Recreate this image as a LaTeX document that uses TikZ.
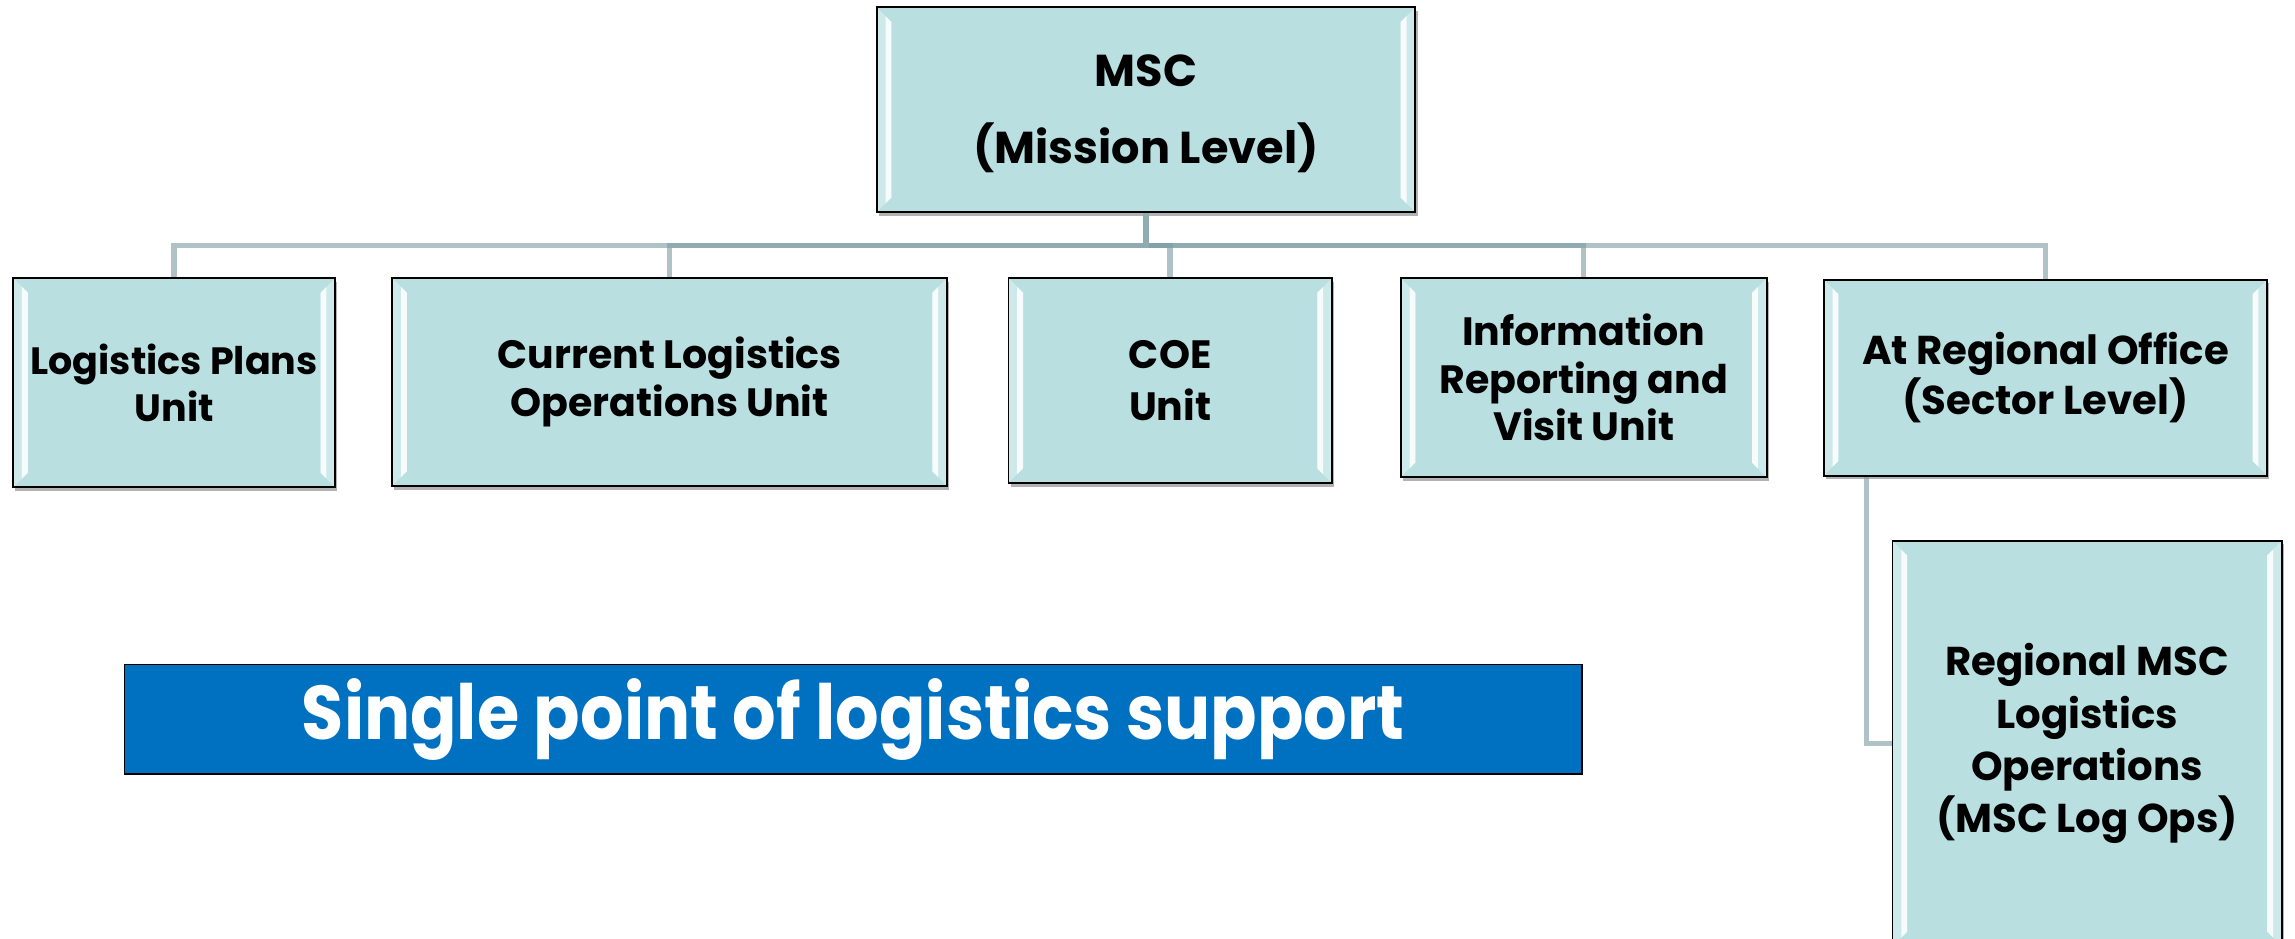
\documentclass[tikz,border=0pt]{standalone}
\usepackage{fontspec}
\setmainfont{Poppins}
\newfontfamily\bannerfont{Poppins}[FakeStretch=0.9]
\usetikzlibrary{shadows,calc}
\definecolor{boxfill}{HTML}{B9DFE1}
\definecolor{connc}{HTML}{7A9CA3}
\definecolor{conndark}{HTML}{8FACB2}
\definecolor{bannerblue}{HTML}{0070C0}
\newcommand{\boxbevel}{%
  \fill[white!30!boxfill]
    (path picture bounding box.north west) -- ++(10pt,-10pt)
    -- ([shift={(10pt,10pt)}]path picture bounding box.south west)
    -- (path picture bounding box.south west) -- cycle;
  \fill[white!88!boxfill]
    ([shift={(6pt,-6pt)}]path picture bounding box.north west) -- ++(4pt,-4pt)
    -- ([shift={(10pt,10pt)}]path picture bounding box.south west)
    -- ([shift={(6pt,6pt)}]path picture bounding box.south west) -- cycle;
  \fill[white!30!boxfill]
    (path picture bounding box.north east) -- ++(-10pt,-10pt)
    -- ([shift={(-10pt,10pt)}]path picture bounding box.south east)
    -- (path picture bounding box.south east) -- cycle;
  \fill[white!88!boxfill]
    ([shift={(-6pt,-6pt)}]path picture bounding box.north east) -- ++(-4pt,-4pt)
    -- ([shift={(-10pt,10pt)}]path picture bounding box.south east)
    -- ([shift={(-6pt,6pt)}]path picture bounding box.south east) -- cycle;
}
\tikzset{
  orgbox/.style={draw=black, line width=1.3pt, fill=boxfill, inner sep=0pt,
    align=center, text=black,
    drop shadow={shadow xshift=1.5pt, shadow yshift=-2.5pt, opacity=0.3, fill=black},
    path picture={\boxbevel}},
  unitfont/.style={font=\fontsize{27}{32.5}\selectfont\bfseries},
  conn/.style={draw=connc, line width=3.8pt, draw opacity=0.6},
  connmain/.style={draw=conndark, line width=3.8pt},
  banner/.style={draw=black, line width=1.2pt, fill=bannerblue, text=white,
    inner sep=0pt, font=\bannerfont\fontsize{52}{60}\selectfont\bfseries}
}
\begin{document}
\begin{tikzpicture}[x=1pt,y=-1pt]
\useasboundingbox[fill=white] (0,0) rectangle (1568,641);

% boxes
\node[orgbox, minimum width=368pt, minimum height=140pt,
      font=\fontsize{30.5}{52}\selectfont\bfseries] (msc) at (783,75)
      {\raisebox{-4pt}{\begin{tabular}{@{}c@{}}MSC\\(Mission Level)\end{tabular}}};
\node[orgbox, minimum width=220pt, minimum height=143pt,
      font=\fontsize{26}{32.5}\selectfont\bfseries] (lp) at (119,261.5) {Logistics Plans\\Unit};
\node[orgbox, unitfont, minimum width=379pt, minimum height=142pt] (clo) at (457.5,261) {Current Logistics\\Operations Unit};
\node[orgbox, minimum width=221pt, minimum height=140pt,
      font=\fontsize{27}{35}\selectfont\bfseries] (coe) at (799.5,260) {COE\\Unit};
\node[orgbox, unitfont, minimum width=250pt, minimum height=136pt] (irv) at (1082,258) {Information\\Reporting and\\Visit Unit};
\node[orgbox, minimum width=303pt, minimum height=134pt,
      font=\fontsize{27.5}{34}\selectfont\bfseries] (ro) at (1397.5,258) {At Regional Office\\(Sector Level)};
\node[orgbox, minimum width=266pt, minimum height=277pt,
      font=\fontsize{27.5}{35.7}\selectfont\bfseries] (mlo) at (1426,508) {Regional MSC\\Logistics\\Operations\\(MSC Log Ops)};

% connectors
\coordinate (hub) at ($(msc.south)+(0pt,-22pt)$);
\draw[conn] (hub) -| (lp.north);
\draw[conn] (hub) -| (clo.north);
\draw[conn] (hub) -| (coe.north);
\draw[conn] (hub) -| (irv.north);
\draw[conn] (hub) -| (ro.north);
\draw[connmain] (msc.south) -- ([yshift=-1.9pt]hub);
\draw[conn] ([xshift=30pt]ro.south west) |- (mlo.west);

% banner
\node[banner, minimum width=996pt, minimum height=75pt] (sp) at (583,491.5) {Single point of logistics support};
\end{tikzpicture}
\end{document}
